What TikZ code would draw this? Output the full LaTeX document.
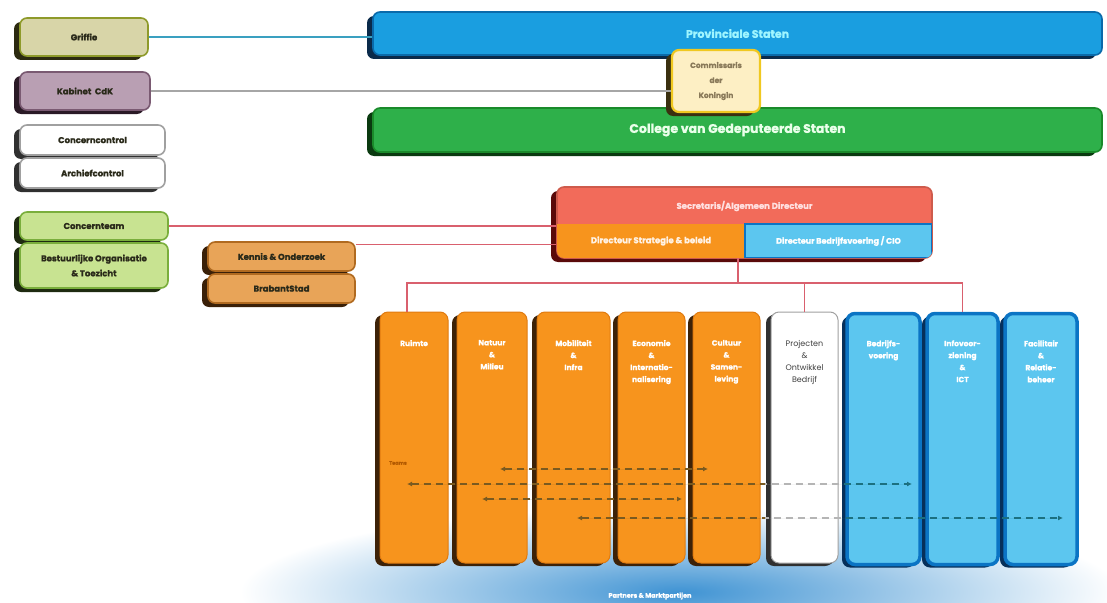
\documentclass[tikz,border=0pt]{standalone}
\usepackage{fontspec}
\setmainfont{Poppins}[BoldFeatures={FakeBold=1.2}]
\usetikzlibrary{shadows,arrows.meta}
\definecolor{griffill}{HTML}{D8D5A8}\definecolor{grifdraw}{HTML}{8E9A2A}\definecolor{grifshad}{HTML}{2C2A10}
\definecolor{kabfill}{HTML}{B99FB3}\definecolor{kabdraw}{HTML}{7A5A72}\definecolor{kabshad}{HTML}{2A1A26}
\definecolor{ccdraw}{HTML}{A0A0A0}\definecolor{ccshad}{HTML}{303030}
\definecolor{ctfill}{HTML}{C8E391}\definecolor{ctdraw}{HTML}{7AAE3C}\definecolor{ctshad}{HTML}{1E2A10}
\definecolor{kenfill}{HTML}{E8A458}\definecolor{kendraw}{HTML}{B06A20}\definecolor{kenshad}{HTML}{3A2008}
\definecolor{psfill}{HTML}{1A9EE0}\definecolor{psdraw}{HTML}{0A6AAA}\definecolor{psshad}{HTML}{0A2A4A}\definecolor{pstext}{HTML}{9FF5FF}
\definecolor{gsfill}{HTML}{2EB04A}\definecolor{gsdraw}{HTML}{1A8A2A}\definecolor{gsshad}{HTML}{0A3A10}\definecolor{gstext}{HTML}{EAFFEA}
\definecolor{cdkfill}{HTML}{FDEFC4}\definecolor{cdkdraw}{HTML}{F0C820}\definecolor{cdkshad}{HTML}{3A3010}\definecolor{cdktext}{HTML}{8A7A5A}
\definecolor{secred}{HTML}{F26B5A}\definecolor{secshad}{HTML}{5A0A0A}
\definecolor{orng}{HTML}{F7941D}\definecolor{orngdraw}{HTML}{E07B10}\definecolor{orngshad}{HTML}{3D2208}
\definecolor{lblue}{HTML}{5CC6EF}\definecolor{dblue}{HTML}{0B74C4}\definecolor{bshad}{HTML}{07305A}
\definecolor{redline}{HTML}{D9606E}\definecolor{tealline}{HTML}{3AA0C0}
\definecolor{tbrown}{HTML}{7A5A20}\definecolor{tgray}{HTML}{B5B5B5}\definecolor{tteal}{HTML}{1C7080}
\definecolor{glow}{HTML}{3F93D3}\definecolor{txtdark}{HTML}{2A2A1A}
\newcommand\teamarrow[2]{%
  \foreach \lo/\hi/\cc in {370/765/tbrown, 765/842/tgray, 842/1100/tteal}{%
    \begin{scope}\clip (\lo,440) rectangle (\hi,540);
      \draw[tline, draw=\cc, fill=\cc] (#1) -- (#2);
    \end{scope}}}
\begin{document}
\begin{tikzpicture}[x=1pt,y=-1pt,
  card/.style n args={3}{draw=#2, fill=#1, line width=1.6pt, rounded corners=7pt,
     general shadow={fill=#3, shadow xshift=-6pt, shadow yshift=-4pt},
     inner sep=0pt, align=center, text=txtdark, font=\bfseries\fontsize{8.5}{10}\selectfont},
  col/.style n args={4}{fill=#1, draw=#2, line width=#4, rounded corners=8pt,
     general shadow={fill=#3, shadow xshift=-5pt, shadow yshift=-3pt},
     minimum height=251pt, inner sep=0pt},
  coltxt/.style={anchor=north, align=center, text=white, font=\bfseries\fontsize{7.5}{12}\selectfont},
  link/.style={line width=1.1pt},
  tline/.style={line width=1.4pt, dash pattern=on 7pt off 5pt, {Latex[length=5pt,width=5pt]}-{Latex[length=5pt,width=5pt]}}
]
\useasboundingbox (0,0) rectangle (1107,602);
% glow
\begin{scope}
  \clip (0,0) rectangle (1107,602);
  \shade[inner color=glow, outer color=white] (680,592) ellipse [x radius=440, y radius=85];
\end{scope}
% left boxes
\node[card={griffill}{grifdraw}{grifshad}, minimum width=128pt, minimum height=38pt] (griffie) at (84,37) {Griffie};
\node[card={kabfill}{kabdraw}{kabshad}, minimum width=130pt, minimum height=38pt] (kabinet) at (85,91) {Kabinet\ \ CdK};
\node[card={white}{ccdraw}{ccshad}, minimum width=145pt, minimum height=30pt] (ccontrol) at (92.5,140) {Concerncontrol};
\node[card={white}{ccdraw}{ccshad}, minimum width=145pt, minimum height=30pt] (archief) at (92.5,173) {Archiefcontrol};
\node[card={ctfill}{ctdraw}{ctshad}, minimum width=148pt, minimum height=28pt] (cteam) at (94,226) {Concernteam};
\node[card={ctfill}{ctdraw}{ctshad}, minimum width=148pt, minimum height=45pt, font=\bfseries\fontsize{8.5}{15}\selectfont] (bestuur) at (94,265.5) {Bestuurlijke Organisatie\\\& Toezicht};
\node[card={kenfill}{kendraw}{kenshad}, minimum width=147pt, minimum height=29pt] (kennis) at (281.5,256.5) {Kennis \& Onderzoek};
\node[card={kenfill}{kendraw}{kenshad}, minimum width=147pt, minimum height=29pt] (brabant) at (281.5,288.5) {BrabantStad};
% top bars
\node[card={psfill}{psdraw}{psshad}, minimum width=729pt, minimum height=43pt, text=pstext, font=\bfseries\fontsize{11}{12}\selectfont] (prov) at (737.5,33.5) {Provinciale Staten};
\node[card={gsfill}{gsdraw}{gsshad}, minimum width=729pt, minimum height=44pt, text=gstext, font=\bfseries\fontsize{12.5}{14}\selectfont] (college) at (737.5,130) {College van Gedeputeerde Staten};
\node[card={cdkfill}{cdkdraw}{cdkshad}, line width=2.2pt, minimum width=88pt, minimum height=62pt, text=cdktext, font=\bfseries\fontsize{7.5}{15}\selectfont] (comm) at (716,81) {Commissaris\\der\\Koningin};
% secretaris block
\node[card={secred}{secred!85!black}{secshad}, minimum width=375pt, minimum height=71pt] (secr) at (744.5,222.5) {};
\begin{scope}
  \clip[rounded corners=7pt] (557,187) rectangle (932,258);
  \fill[orng] (557,224) rectangle (745,258);
  \fill[lblue] (745,224) rectangle (932,258);
  \draw[dblue, line width=2.5pt] (745,224) rectangle (932,258);
\end{scope}
\node[font=\bfseries\fontsize{8.5}{10}\selectfont, text=white!88!red] (sectop) at (744.5,206) {Secretaris/Algemeen Directeur};
\node[font=\bfseries\fontsize{8.5}{10}\selectfont, text=white!90!orange] (dsb) at (651,241) {Directeur Strategie \& beleid};
\node[font=\bfseries\fontsize{8}{10}\selectfont, text=white] (dbv) at (838.5,241) {Directeur Bedrijfsvoering / CIO};
% columns
\node[col={orng}{orngdraw}{orngshad}{1pt}, minimum width=68pt] (c1) at (414,437.5) {};
\node[col={orng}{orngdraw}{orngshad}{1pt}, minimum width=70pt] (c2) at (492,437.5) {};
\node[col={orng}{orngdraw}{orngshad}{1pt}, minimum width=73pt] (c3) at (573.5,437.5) {};
\node[col={orng}{orngdraw}{orngshad}{1pt}, minimum width=67pt] (c4) at (651.5,437.5) {};
\node[col={orng}{orngdraw}{orngshad}{1pt}, minimum width=67pt] (c5) at (726.5,437.5) {};
\node[col={white}{ccdraw}{ccshad}{1pt}, minimum width=67pt, general shadow={fill=ccshad, shadow xshift=-3pt, shadow yshift=-2pt}] (c6) at (804.5,437.5) {};
\node[col={lblue}{dblue}{bshad}{3.5pt}, minimum width=73pt] (c7) at (883.5,439) {};
\node[col={lblue}{dblue}{bshad}{3.5pt}, minimum width=71pt] (c8) at (962.5,439) {};
\node[col={lblue}{dblue}{bshad}{3.5pt}, minimum width=72pt] (c9) at (1041,439) {};
\node[coltxt] (t1) at ([yshift=-25pt]c1.north) {Ruimte};
\node[coltxt] (t2) at ([yshift=-25pt]c2.north) {Natuur\\\&\\Milieu};
\node[coltxt] (t3) at ([yshift=-25pt]c3.north) {Mobiliteit\\\&\\Infra};
\node[coltxt] (t4) at ([yshift=-25pt]c4.north) {Economie\\\&\\Internatio-\\nalisering};
\node[coltxt] (t5) at ([yshift=-25pt]c5.north) {Cultuur\\\&\\Samen-\\leving};
\node[coltxt, text=black!75, font=\fontsize{8}{12}\selectfont] (t6) at ([yshift=-25pt]c6.north) {Projecten\\\&\\Ontwikkel\\Bedrijf};
\node[coltxt] (t7) at ([yshift=-25pt]c7.north) {Bedrijfs-\\voering};
\node[coltxt] (t8) at ([yshift=-25pt]c8.north) {Infovoor-\\ziening\\\&\\ICT};
\node[coltxt] (t9) at ([yshift=-25pt]c9.north) {Facilitair\\\&\\Relatie-\\beheer};
% connectors
\draw[link, tealline] (griffie.east) -- (griffie.east -| prov.west);
\draw[link, black!35] (kabinet.east) -- (kabinet.east -| comm.west);
\draw[link, redline] (cteam.east) -- (cteam.east -| secr.west);
\draw[link, redline] ([yshift=-3pt]kennis.north east) -- ([yshift=-3pt]kennis.north east -| secr.west);
\coordinate (drop) at (738,258);
\coordinate (bar) at (738,283);
\draw[link, redline] (drop) -- (bar);
\draw[link, redline] ([xshift=-7pt]c1.north) |- (bar) -| (c8.north);
\draw[link, redline] (bar) -| (c6.north);
% teams
\node[font=\bfseries\fontsize{5}{6}\selectfont, text=orange!70!black] (teams) at (398,463) {Teams};
\coordinate (a1) at (500,469);\coordinate (b1) at (708,469);
\coordinate (a2) at (407,484);\coordinate (b2) at (912,484);
\coordinate (a3) at (482,499);\coordinate (b3) at (682,499);
\coordinate (a4) at (577,518);\coordinate (b4) at (1063,518);
\teamarrow{a1}{b1}
\teamarrow{a2}{b2}
\teamarrow{a3}{b3}
\teamarrow{a4}{b4}
\node[font=\bfseries\fontsize{6.5}{7}\selectfont, text=white] (partners) at (650,596) {Partners \& Marktpartijen};
\end{tikzpicture}
\end{document}
